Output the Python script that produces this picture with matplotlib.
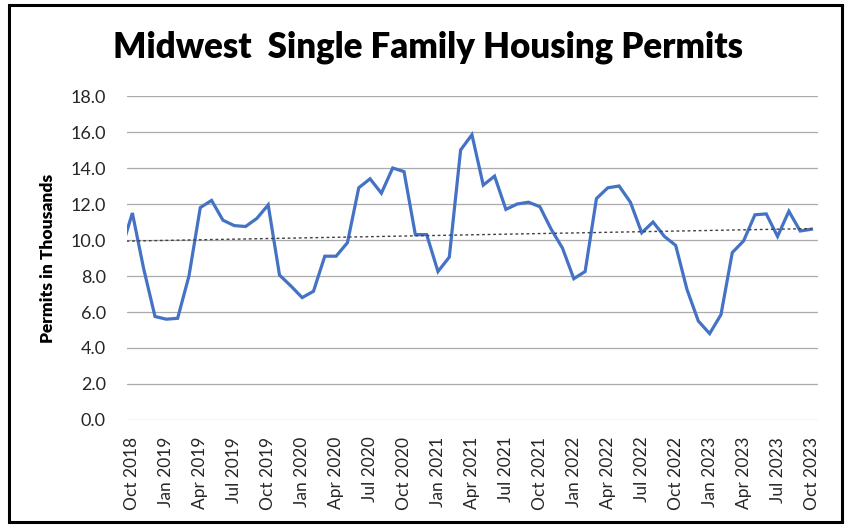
#!/usr/bin/env python3
"""Midwest single family housing permits, monthly, with a linear trendline."""

import matplotlib

matplotlib.use("Agg")

import matplotlib.pyplot as plt
import numpy as np
from matplotlib.patches import Rectangle

# Monthly permits (thousands), Sep 2018 .. Oct 2023.
# Sep 2018 sits just left of the plot area and is clipped, as in the source.
months = [
    "Sep 2018", "Oct 2018", "Nov 2018", "Dec 2018",
    "Jan 2019", "Feb 2019", "Mar 2019", "Apr 2019", "May 2019", "Jun 2019",
    "Jul 2019", "Aug 2019", "Sep 2019", "Oct 2019", "Nov 2019", "Dec 2019",
    "Jan 2020", "Feb 2020", "Mar 2020", "Apr 2020", "May 2020", "Jun 2020",
    "Jul 2020", "Aug 2020", "Sep 2020", "Oct 2020", "Nov 2020", "Dec 2020",
    "Jan 2021", "Feb 2021", "Mar 2021", "Apr 2021", "May 2021", "Jun 2021",
    "Jul 2021", "Aug 2021", "Sep 2021", "Oct 2021", "Nov 2021", "Dec 2021",
    "Jan 2022", "Feb 2022", "Mar 2022", "Apr 2022", "May 2022", "Jun 2022",
    "Jul 2022", "Aug 2022", "Sep 2022", "Oct 2022", "Nov 2022", "Dec 2022",
    "Jan 2023", "Feb 2023", "Mar 2023", "Apr 2023", "May 2023", "Jun 2023",
    "Jul 2023", "Aug 2023", "Sep 2023", "Oct 2023",
]
permits = [
    9.4, 11.5, 8.4, 5.75,
    5.6, 5.65, 8.0, 11.8, 12.2, 11.1,
    10.8, 10.75, 11.2, 11.95, 8.05, 7.45,
    6.8, 7.15, 9.1, 9.1, 9.85, 12.9,
    13.4, 12.6, 14.0, 13.8, 10.3, 10.3,
    8.25, 9.05, 15.0, 15.85, 13.05, 13.55,
    11.7, 12.0, 12.1, 11.85, 10.6, 9.55,
    7.85, 8.25, 12.3, 12.9, 13.0, 12.1,
    10.4, 11.0, 10.2, 9.7, 7.25, 5.5,
    4.8, 5.85, 9.3, 9.95, 11.4, 11.45,
    10.2, 11.6, 10.5, 10.6,
]
tick_labels = [
    "Oct 2018", "Jan 2019", "Apr 2019", "Jul 2019", "Oct 2019",
    "Jan 2020", "Apr 2020", "Jul 2020", "Oct 2020",
    "Jan 2021", "Apr 2021", "Jul 2021", "Oct 2021",
    "Jan 2022", "Apr 2022", "Jul 2022", "Oct 2022",
    "Jan 2023", "Apr 2023", "Jul 2023", "Oct 2023",
]

FONT = ["Lato", "DejaVu Sans"]
LINE_COLOR = "#4472C4"

plt.rcParams["font.family"] = FONT

# x = 0 is Oct 2018
x = np.arange(len(months)) - months.index("Oct 2018")
y = np.array(permits)
slope, intercept = np.polyfit(x, y, 1)

fig = plt.figure(figsize=(8.47, 5.27), dpi=100)
ax = fig.add_axes([126.7 / 847, 1 - 420 / 527, 691.6 / 847, 324 / 527])

ax.plot(x, y, color=LINE_COLOR, linewidth=2.3, solid_joinstyle="miter", zorder=3)
ax.plot(x, slope * x + intercept, color="#404040", linewidth=1.0,
        linestyle=(0, (2, 2)), zorder=4)

ax.set_xlim(-0.5, 60.6)
ax.set_ylim(0, 18)
ax.set_yticks(np.arange(0, 18.1, 2))
ax.set_yticklabels([f"{v:.1f}" for v in np.arange(0, 18.1, 2)], fontsize=13, color="#262626")
ax.yaxis.grid(True, color="#ABABAB", linewidth=0.9)
ax.set_axisbelow(True)

tick_pos = [months.index(label) - months.index("Oct 2018") for label in tick_labels]
ax.set_xticks(tick_pos)
ax.set_xticklabels(tick_labels, rotation=90, fontsize=12.5, color="#262626")
ax.tick_params(axis="both", length=0)
ax.tick_params(axis="y", pad=15)
ax.tick_params(axis="x", pad=12)
for spine in ax.spines.values():
    spine.set_visible(False)

ax.set_ylabel("Permits in Thousands", fontsize=12.5, fontweight="heavy")
ax.yaxis.set_label_coords(-0.102, 0.5)

fig.text(0.505, 1 - 58 / 527, "Midwest  Single Family Housing Permits",
         ha="center", va="baseline", fontsize=25, fontweight="heavy")

fig.patches.append(Rectangle((9 / 847, 1 - 522 / 527), 833 / 847, 517 / 527,
                             transform=fig.transFigure, fill=False,
                             edgecolor="black", linewidth=2.2))

fig.savefig("out.png", dpi=100)
